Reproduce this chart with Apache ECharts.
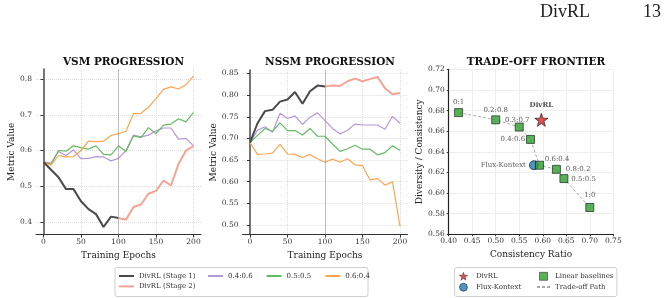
<!DOCTYPE html>
<html>
<head>
<meta charset="utf-8">
<script src="https://cdn.jsdelivr.net/npm/echarts@6/dist/echarts.min.js"></script>
<style>
  html, body { margin: 0; padding: 0; background: #fff; }
  #main { width: 666px; height: 298px; }
</style>
</head>
<body>
<div id="main"></div>
<script>
// epochs
var epochs = [0, 10, 20, 30, 40, 50, 60, 70, 80, 90, 100, 110, 120, 130, 140, 150, 160, 170, 180, 190, 200];
var stage1Epochs = [0, 10, 20, 30, 40, 50, 60, 70, 80, 90, 100];
var stage2Epochs = [100, 110, 120, 130, 140, 150, 160, 170, 180, 190, 200];

// VSM progression
var vsmStage1 = [0.568, 0.546, 0.525, 0.492, 0.492, 0.458, 0.436, 0.422, 0.386, 0.415, 0.411];
var vsmStage2 = [0.411, 0.406, 0.442, 0.449, 0.479, 0.487, 0.516, 0.502, 0.562, 0.600, 0.612];
var vsm46 = [0.568, 0.565, 0.597, 0.586, 0.602, 0.577, 0.578, 0.583, 0.582, 0.571, 0.578, 0.600, 0.643, 0.638, 0.643, 0.655, 0.663, 0.663, 0.632, 0.634, 0.613];
var vsm55 = [0.568, 0.561, 0.600, 0.598, 0.613, 0.608, 0.604, 0.613, 0.589, 0.588, 0.613, 0.597, 0.641, 0.636, 0.664, 0.647, 0.671, 0.674, 0.689, 0.680, 0.707];
var vsm64 = [0.568, 0.559, 0.586, 0.582, 0.583, 0.600, 0.626, 0.625, 0.626, 0.642, 0.647, 0.654, 0.703, 0.704, 0.721, 0.745, 0.771, 0.778, 0.772, 0.784, 0.808];

// NSSM progression
var nssmStage1 = [0.690, 0.735, 0.763, 0.766, 0.785, 0.790, 0.807, 0.780, 0.809, 0.822, 0.820];
var nssmStage2 = [0.820, 0.822, 0.821, 0.832, 0.838, 0.832, 0.837, 0.842, 0.816, 0.802, 0.805];
var nssm46 = [0.690, 0.719, 0.727, 0.714, 0.758, 0.746, 0.752, 0.732, 0.749, 0.759, 0.741, 0.723, 0.710, 0.719, 0.733, 0.731, 0.731, 0.731, 0.721, 0.751, 0.735];
var nssm55 = [0.690, 0.707, 0.723, 0.716, 0.736, 0.718, 0.718, 0.708, 0.723, 0.705, 0.705, 0.687, 0.670, 0.676, 0.684, 0.675, 0.675, 0.662, 0.667, 0.683, 0.672];
var nssm64 = [0.690, 0.663, 0.664, 0.666, 0.686, 0.664, 0.663, 0.656, 0.663, 0.653, 0.645, 0.652, 0.645, 0.653, 0.639, 0.637, 0.604, 0.607, 0.592, 0.600, 0.497];

// trade-off frontier
var ratioLabels = ['0:1', '0.2:0.8', '0.3:0.7', '0.4:0.6', '0.6:0.4', '0.8:0.2', '0.5:0.5', '1:0'];
var ratioConsistency = [0.421, 0.500, 0.550, 0.574, 0.593, 0.629, 0.645, 0.700];
var ratioDiversity = [0.678, 0.671, 0.664, 0.652, 0.627, 0.623, 0.614, 0.586];
var divrlPoint = [0.597, 0.671];
var fluxPoint = [0.581, 0.627];

// tick labels
var epochTicks = [0, 50, 100, 150, 200];
var vsmTicks = [0.4, 0.5, 0.6, 0.7, 0.8];
var nssmTicks = [0.50, 0.55, 0.60, 0.65, 0.70, 0.75, 0.80, 0.85];

var FONT = 'DejaVu Serif';
var C_S1 = '#4a4a4a', C_S2 = '#f4a394', C_46 = '#b797d9', C_55 = '#66bb66', C_64 = '#ffa54f';

function pairs(xs, ys) {
  return xs.map(function (x, i) { return [x, ys[i]]; });
}

// label placement for each baseline point (style only)
var labelPlace = [
  { position: 'top', distance: 3 },
  { position: 'top', distance: 2 },
  { position: 'top', distance: 0, offset: [-2, 1] },
  { position: 'left', distance: 1 },
  { position: 'right', distance: 1, offset: [0, -6] },
  { position: 'right', distance: 5 },
  { position: 'right', distance: 3, offset: [0, 1] },
  { position: 'top', distance: 4 }
];

var myChart = echarts.init(document.getElementById('main'));

function epochAxis(idx) {
  return {
    type: 'value', gridIndex: idx, min: -10, max: 210,
    name: 'Training Epochs', nameLocation: 'middle', nameGap: 16,
    nameTextStyle: { fontFamily: FONT, fontSize: 9, color: '#222' },
    axisLine: { lineStyle: { color: '#333', width: 1.2 } },
    axisTick: { length: 3, customValues: epochTicks, lineStyle: { color: '#333' } },
    axisLabel: { customValues: epochTicks, fontFamily: FONT, fontSize: 7.5, color: '#333', margin: 4 },
    splitLine: { show: true, lineStyle: { type: 'dotted', color: '#ddd' } }
  };
}
function metricAxis(idx, min, max, ticks, digits, gap) {
  return {
    type: 'value', gridIndex: idx, min: min, max: max,
    name: 'Metric Value', nameLocation: 'middle', nameGap: gap,
    nameTextStyle: { fontFamily: FONT, fontSize: 9, color: '#222' },
    axisLine: { show: true, lineStyle: { color: '#555', width: 1.6 } },
    axisTick: { show: true, length: 3, customValues: ticks, lineStyle: { color: '#333' } },
    axisLabel: { customValues: ticks, fontFamily: FONT, fontSize: 7.5, color: '#333', margin: 4,
      formatter: function (v) { return v.toFixed(digits); } },
    splitLine: { show: true, lineStyle: { type: 'dotted', color: '#ddd' } }
  };
}
function lineSeries(name, idx, data, color, width, z) {
  return {
    name: name, type: 'line', xAxisIndex: idx, yAxisIndex: idx,
    data: data, symbol: 'none', z: z,
    lineStyle: { color: color, width: width }, itemStyle: { color: color }
  };
}
var vline = {
  silent: true, symbol: 'none', label: { show: false },
  lineStyle: { type: 'dotted', color: '#888', width: 1 },
  data: [{ xAxis: 100 }]
};

var baselineData = ratioLabels.map(function (lab, i) {
  var p = labelPlace[i];
  return {
    value: [ratioConsistency[i], ratioDiversity[i]],
    label: { show: true, formatter: lab, position: p.position, distance: p.distance, offset: p.offset || [0, 0],
      fontFamily: FONT, fontSize: 7, color: '#333' }
  };
});

var starPath = 'path://M0,-10L2.35,-3.24L9.51,-3.09L3.8,1.24L5.88,8.09L0,4L-5.88,8.09L-3.8,1.24L-9.51,-3.09L-2.35,-3.24Z';
var squarePath = 'path://M0,0h10v10h-10z';

var series = [
  lineSeries('0.4:0.6', 0, pairs(epochs, vsm46), C_46, 1.2, 2),
  lineSeries('0.5:0.5', 0, pairs(epochs, vsm55), C_55, 1.2, 2),
  lineSeries('0.6:0.4', 0, pairs(epochs, vsm64), C_64, 1.2, 2),
  lineSeries('DivRL (Stage 1)', 0, pairs(stage1Epochs, vsmStage1), C_S1, 2, 3),
  lineSeries('DivRL (Stage 2)', 0, pairs(stage2Epochs, vsmStage2), C_S2, 2, 3),
  lineSeries('0.4:0.6', 1, pairs(epochs, nssm46), C_46, 1.2, 2),
  lineSeries('0.5:0.5', 1, pairs(epochs, nssm55), C_55, 1.2, 2),
  lineSeries('0.6:0.4', 1, pairs(epochs, nssm64), C_64, 1.2, 2),
  lineSeries('DivRL (Stage 1)', 1, pairs(stage1Epochs, nssmStage1), C_S1, 2, 3),
  lineSeries('DivRL (Stage 2)', 1, pairs(stage2Epochs, nssmStage2), C_S2, 2, 3),
  {
    name: 'Trade-off Path', type: 'line', xAxisIndex: 2, yAxisIndex: 2, symbol: 'none', z: 2,
    data: pairs(ratioConsistency, ratioDiversity),
    lineStyle: { color: '#aaa', width: 1, type: [3, 2] }, itemStyle: { color: '#aaa' }
  },
  {
    name: 'Flux-Kontext', type: 'scatter', xAxisIndex: 2, yAxisIndex: 2, z: 3,
    symbol: 'circle', symbolSize: 9, data: [fluxPoint],
    itemStyle: { color: '#1f77b4', borderColor: '#111', borderWidth: 0.8 },
    label: { show: true, formatter: 'Flux-Kontext', position: 'left', distance: 3,
      fontFamily: FONT, fontSize: 7, color: '#333' }
  },
  {
    name: 'Linear baselines', type: 'scatter', xAxisIndex: 2, yAxisIndex: 2, z: 4,
    symbol: 'rect', symbolSize: 8, data: baselineData,
    itemStyle: { color: '#2ca02c', borderColor: '#111', borderWidth: 0.8 }
  },
  {
    name: 'DivRL', type: 'scatter', xAxisIndex: 2, yAxisIndex: 2, z: 5,
    symbol: starPath, symbolSize: 13, data: [divrlPoint],
    itemStyle: { color: '#d62728', borderColor: '#111', borderWidth: 0.8 },
    label: { show: true, formatter: 'DivRL', position: 'top', distance: 4,
      fontFamily: FONT, fontSize: 7, fontWeight: 'bold', color: '#222' }
  }
];
series[3].markLine = vline;
series[8].markLine = vline;

var legendText = { fontFamily: FONT, fontSize: 7, color: '#333', lineHeight: 8 };
function legendBox(x, y, w, h) {
  return { type: 'rect', z: 1, shape: { x: x, y: y, width: w, height: h, r: 2 },
    style: { fill: '#fff', stroke: '#d0d0d0', lineWidth: 1 } };
}
var titleStyle = { fontFamily: FONT, fontSize: 10.5, fontWeight: 'bold', color: '#111' };

var option = {
  animation: false,
  textStyle: { fontFamily: FONT },
  title: [
    { text: 'VSM PROGRESSION', left: 118.5, top: 52, textAlign: 'center', textStyle: titleStyle },
    { text: 'NSSM PROGRESSION', left: 325, top: 52, textAlign: 'center', textStyle: titleStyle },
    { text: 'TRADE-OFF FRONTIER', left: 531, top: 52, textAlign: 'center', textStyle: titleStyle }
  ],
  grid: [
    { left: 36, top: 69, width: 165, height: 165.5 },
    { left: 242.5, top: 70, width: 165, height: 164.5 },
    { left: 448.7, top: 69.3, width: 164.6, height: 165 }
  ],
  xAxis: [
    epochAxis(0),
    epochAxis(1),
    {
      type: 'value', gridIndex: 2, min: 0.40, max: 0.75, interval: 0.05,
      name: 'Consistency Ratio', nameLocation: 'middle', nameGap: 16,
      nameTextStyle: { fontFamily: FONT, fontSize: 9, color: '#222' },
      axisLine: { lineStyle: { color: '#222', width: 1.2 } },
      axisTick: { length: 2, lineStyle: { color: '#333' } },
      axisLabel: { fontFamily: FONT, fontSize: 7.5, color: '#333', margin: 3,
        formatter: function (v) { return v.toFixed(2); } },
      splitLine: { show: true, lineStyle: { color: '#eee' } }
    }
  ],
  yAxis: [
    metricAxis(0, 0.365, 0.828, vsmTicks, 1, 19),
    metricAxis(1, 0.478, 0.858, nssmTicks, 2, 24),
    {
      type: 'value', gridIndex: 2, min: 0.56, max: 0.72, interval: 0.02,
      name: 'Diversity / Consistency', nameLocation: 'middle', nameGap: 25,
      nameTextStyle: { fontFamily: FONT, fontSize: 9, color: '#222' },
      axisLine: { show: true, lineStyle: { color: '#222', width: 1.2 } },
      axisTick: { show: true, length: 2, lineStyle: { color: '#333' } },
      axisLabel: { fontFamily: FONT, fontSize: 7.5, color: '#333', margin: 4,
        formatter: function (v) { return v.toFixed(2); } },
      splitLine: { show: true, lineStyle: { color: '#eee' } }
    }
  ],
  legend: [
    { data: ['DivRL (Stage 1)', 'DivRL (Stage 2)'], orient: 'vertical', left: 118, top: 272,
      itemWidth: 15, itemHeight: 8, itemGap: 2.4, padding: 0, textStyle: legendText, z: 5,
      itemStyle: { opacity: 0 } },
    { data: ['0.4:0.6', '0.5:0.5', '0.6:0.4'], orient: 'horizontal', left: 207, top: 272,
      itemWidth: 15, itemHeight: 8, itemGap: 13, padding: 0, textStyle: legendText, z: 5,
      itemStyle: { opacity: 0 } },
    { data: [{ name: 'DivRL', itemStyle: { color: '#d62728', borderColor: '#111', borderWidth: 0.5 } },
             { name: 'Flux-Kontext', itemStyle: { color: '#1f77b4', borderColor: '#111', borderWidth: 0.6 } }],
      orient: 'vertical', left: 459, top: 272,
      itemWidth: 15, itemHeight: 8, itemGap: 2.4, padding: 0, textStyle: legendText, z: 5 },
    { data: [{ name: 'Linear baselines', icon: squarePath,
               itemStyle: { color: '#2ca02c', borderColor: '#111', borderWidth: 0.6 } },
             { name: 'Trade-off Path', itemStyle: { opacity: 0 } }],
      orient: 'vertical', left: 536, top: 272,
      itemWidth: 13, itemHeight: 8, itemGap: 2.4, padding: 0, textStyle: legendText, z: 5 }
  ],
  graphic: [
    legendBox(115, 267.5, 253, 29),
    legendBox(454.6, 267.5, 162.3, 29),
    { type: 'text', left: 540, top: 3, style: { text: 'DivRL', font: '18px "Liberation Serif"', fill: '#222' } },
    { type: 'text', left: 643, top: 3, style: { text: '13', font: '18px "Liberation Serif"', fill: '#222' } }
  ],
  series: series
};

myChart.setOption(option);
</script>
</body>
</html>
